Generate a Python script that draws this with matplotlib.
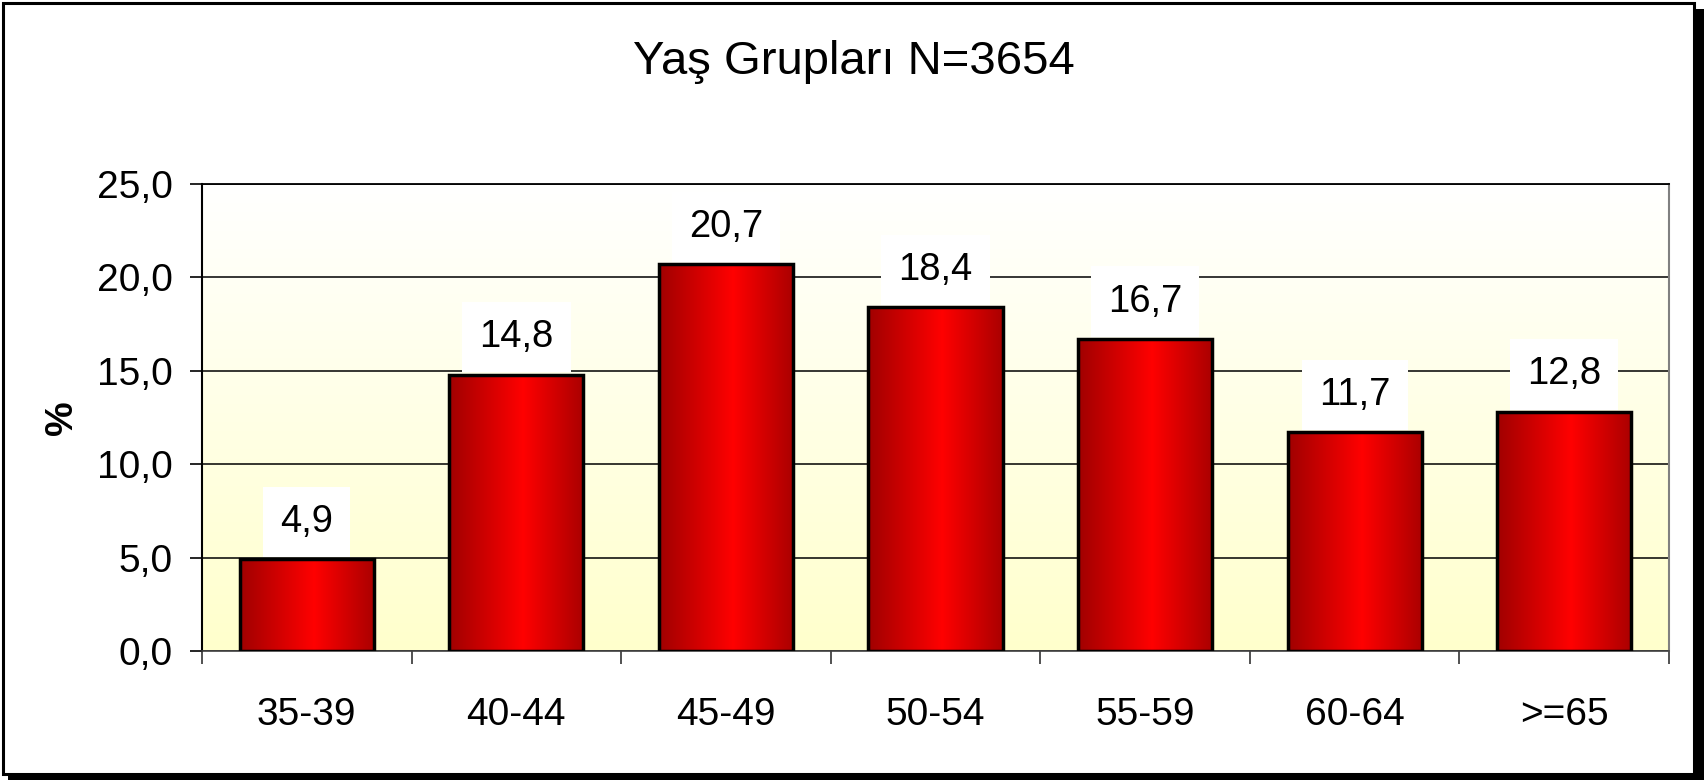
import matplotlib
matplotlib.use("Agg")
import matplotlib.pyplot as plt
import numpy as np
from matplotlib.colors import LinearSegmentedColormap
from matplotlib.patches import Rectangle

categories = ["35-39", "40-44", "45-49", "50-54", "55-59", "60-64", ">=65"]
values = [4.9, 14.8, 20.7, 18.4, 16.7, 11.7, 12.8]
yticks = [0, 5, 10, 15, 20, 25]
title = "Yaş Grupları N=3654"

plt.rcParams["font.family"] = ["Liberation Sans", "DejaVu Sans"]

W, H = 1707, 780
fig = plt.figure(figsize=(W / 100, H / 100), dpi=100)


def px(x0, y0, x1, y1):
    # pixel box (top-left origin) -> figure fraction rectangle args
    return (x0 / W, 1 - y1 / H), (x1 - x0) / W, (y1 - y0) / H


# outer frame with drop shadow
for box in [(1694, 9, 1704, 780), (8, 774, 1704, 780)]:
    xy, w, h = px(*box)
    fig.add_artist(Rectangle(xy, w, h, transform=fig.transFigure, color="black", lw=0, zorder=0))
xy, w, h = px(3, 3, 1694, 774)
fig.add_artist(Rectangle(xy, w, h, transform=fig.transFigure, fill=False, ec="black", lw=2.2, zorder=1))

ax = fig.add_axes([202 / W, 1 - 651 / H, (1669 - 202) / W, (651 - 184) / H])
ax.set_facecolor("none")

# plot area background: white at top to pale yellow at bottom
bg = LinearSegmentedColormap.from_list("bg", ["#ffffcc", "#ffffff"])
ax.imshow(np.linspace(0, 1, 256).reshape(-1, 1), cmap=bg, origin="lower",
          extent=[0, 1, 0, 1], transform=ax.transAxes, aspect="auto", zorder=0)

x = np.arange(len(categories))
width = 0.64

ax.yaxis.grid(True, color="black", lw=1.1, zorder=1)
ax.set_axisbelow(True)

redgrad = LinearSegmentedColormap.from_list(
    "red", [(0, "#a00000"), (0.55, "#ff0000"), (1, "#aa0000")])
grad = np.linspace(0, 1, 256).reshape(1, -1)

for xi, v in zip(x, values):
    bar = ax.bar(xi, v, width=width, facecolor="none", edgecolor="black", lw=2.5, zorder=3)[0]
    im = ax.imshow(grad, cmap=redgrad, extent=[xi - width / 2, xi + width / 2, 0, v],
                   aspect="auto", zorder=2)
    im.set_clip_path(bar)
    ax.annotate(f"{v:.1f}".replace(".", ","), (xi, v), xytext=(0, 27), textcoords="offset points",
                ha="center", va="center", fontsize=27.5,
                bbox=dict(boxstyle="square,pad=0.45", fc="white", ec="none"), zorder=4)

ax.set_xlim(-0.5, len(categories) - 0.5)
ax.set_ylim(0, 25)

ax.set_yticks(yticks)
ax.set_yticklabels([f"{t:.1f}".replace(".", ",") for t in yticks], fontsize=28)
ax.tick_params(axis="y", length=9, width=1.2, pad=12, direction="out")

ax.set_xticks(x)
ax.set_xticklabels(categories, fontsize=28)
ax.set_xticks(np.arange(len(categories) + 1) - 0.5, minor=True)
ax.tick_params(axis="x", which="major", length=0, pad=33)
ax.tick_params(axis="x", which="minor", length=9, width=1.2, direction="out", color="#333333")

ax.spines["left"].set_linewidth(1.5)
ax.spines["top"].set_color("black")
ax.spines["top"].set_linewidth(1.3)
ax.spines["right"].set_color("#808080")
ax.spines["right"].set_linewidth(1.5)
ax.spines["bottom"].set_color("#404040")
ax.spines["bottom"].set_linewidth(1.2)

fig.text(62 / W, 1 - 418 / H, "%", rotation=90, ha="center", va="center", fontsize=28, fontweight="bold")
fig.text(0.5, 1 - 62 / H, title, ha="center", va="center", fontsize=34)

fig.savefig("out.png", dpi=100, facecolor="white")
